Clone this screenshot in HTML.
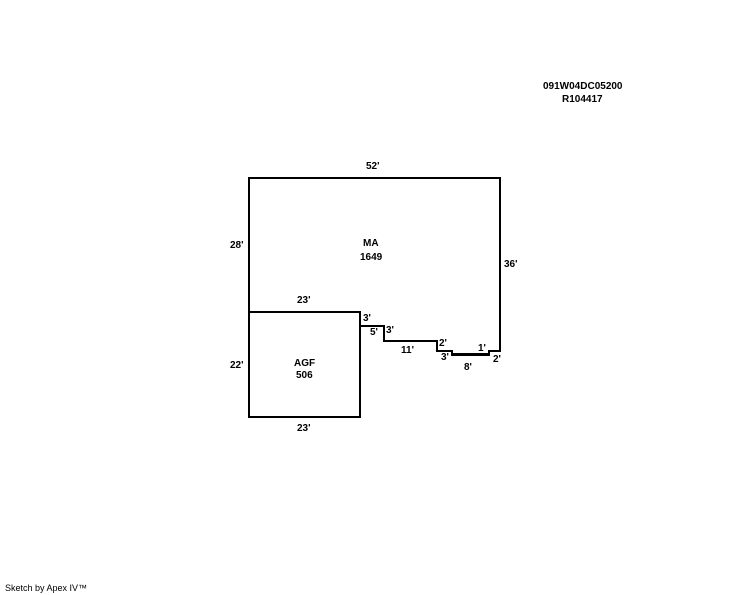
<!DOCTYPE html>
<html><head><style>
body{margin:0;background:#fff;width:744px;height:595px;position:relative;overflow:hidden;font-family:"Liberation Sans",Arial,sans-serif;}
.t{position:absolute;font-size:10px;font-weight:bold;color:#000;white-space:nowrap;}
</style></head><body>
<svg width="744" height="595" style="position:absolute;left:0;top:0">
<g fill="none" stroke="#000" stroke-width="2">
<polyline points="249,312 249,178 500,178 500,351 489,351 489,355 452,355 452,351 437,351 437,341 384,341 384,326 360,326"/>
<rect x="249" y="312" width="111" height="105"/>
<line x1="452" y1="354" x2="489" y2="354" stroke-width="2"/>
</g>
</svg>
<div class="t" style="left:543px;top:81px">091W04DC05200</div>
<div class="t" style="left:562px;top:94px">R104417</div>
<div class="t" style="left:366px;top:161px">52'</div>
<div class="t" style="left:230px;top:240px">28'</div>
<div class="t" style="left:363px;top:238px">MA</div>
<div class="t" style="left:360px;top:252px">1649</div>
<div class="t" style="left:504px;top:259px">36'</div>
<div class="t" style="left:297px;top:295px">23'</div>
<div class="t" style="left:363px;top:313px">3'</div>
<div class="t" style="left:370px;top:327px">5'</div>
<div class="t" style="left:386px;top:325px">3'</div>
<div class="t" style="left:401px;top:345px">11'</div>
<div class="t" style="left:439px;top:338px">2'</div>
<div class="t" style="left:441px;top:352px">3'</div>
<div class="t" style="left:478px;top:343px">1'</div>
<div class="t" style="left:493px;top:354px">2'</div>
<div class="t" style="left:464px;top:362px">8'</div>
<div class="t" style="left:230px;top:360px">22'</div>
<div class="t" style="left:294px;top:358px">AGF</div>
<div class="t" style="left:296px;top:370px">506</div>
<div class="t" style="left:297px;top:423px">23'</div>
<div class="t" style="left:5px;top:583px;font-weight:normal;font-size:9px">Sketch by Apex IV™</div>
</body></html>
